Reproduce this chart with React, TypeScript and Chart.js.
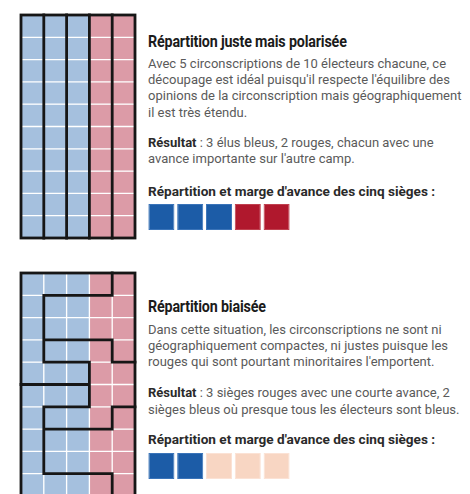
import React, { useEffect, useRef } from "react";
import { Chart, registerables } from "chart.js";

Chart.register(...registerables);

// ---------- data ----------
const gridColumns = ["1", "2", "3", "4", "5"];
// voters: B = bleu, R = rouge (one string per row, top to bottom)
const voterRows = [
  "BBBRR", "BBBRR", "BBBRR", "BBBRR", "BBBRR",
  "BBBRR", "BBBRR", "BBBRR", "BBBRR", "BBBRR",
];
// district id of each voter, fair map
const districtsFair = [
  "01234", "01234", "01234", "01234", "01234",
  "01234", "01234", "01234", "01234", "01234",
];
// district id of each voter, biased map
const districtsBiased = [
  "22221", "21111", "21111", "23331", "22233",
  "44433", "43335", "45555", "45555", "44445",
];
// seats: winner and margin (voters ahead)
const seatLabels = ["1", "2", "3", "4", "5"];
const seatWinnerFair = ["bleu", "bleu", "bleu", "rouge", "rouge"];
const seatMarginFair = [10, 10, 10, 10, 10];
const seatWinnerBiased = ["bleu", "bleu", "rouge", "rouge", "rouge"];
const seatMarginBiased = [8, 8, 2, 2, 2];

// texts
const titleFair = "Répartition juste mais polarisée";
const bodyFair = [
  "Avec 5 circonscriptions de 10 électeurs chacune, ce",
  "découpage est idéal puisqu'il respecte l'équilibre des",
  "opinions de la circonscription mais géographiquement",
  "il est très étendu.",
];
const resultFair = [
  " : 3 élus bleus, 2 rouges, chacun avec une",
  "avance importante sur l'autre camp.",
];
const titleBiased = "Répartition biaisée";
const bodyBiased = [
  "Dans cette situation, les circonscriptions ne sont ni",
  "géographiquement compactes, ni justes puisque les",
  "rouges qui sont pourtant minoritaires l'emportent.",
];
const resultBiased = [
  " : 3 sièges rouges avec une courte avance, 2",
  "sièges bleus où presque tous les électeurs sont bleus.",
];
const seatsHeading = "Répartition et marge d'avance des cinq sièges :";

// ---------- styles ----------
const VOTER_COLORS: Record<string, string> = { B: "#a5c0de", R: "#dc9ba7" };
const seatColor = (w: string, m: number) =>
  w === "bleu" ? (m >= 5 ? "#1c5ca7" : "#9fbfe0") : m >= 5 ? "#b0182d" : "#f8d6c3";
const seatBorder = (w: string, m: number) =>
  w === "bleu" ? (m >= 5 ? "#3a74b9" : "#b5cde8") : m >= 5 ? "#c0404f" : "#fbe2d5";

const districtBorders = {
  id: "districtBorders",
  afterDatasetsDraw(chart: any, _args: any, opts: any) {
    const d: string[] = opts.districts;
    if (!d) return;
    const { ctx } = chart;
    const xs = chart.scales.x;
    const ys = chart.scales.y;
    const nR = d.length;
    const nC = d[0].length;
    const colW = xs.getPixelForValue(1) - xs.getPixelForValue(0);
    const x0 = xs.getPixelForValue(0) - colW / 2;
    const xe = (c: number) => x0 + c * colW;
    const ye = (r: number) => ys.getPixelForValue(r);
    ctx.save();
    ctx.strokeStyle = opts.color;
    ctx.lineWidth = opts.width;
    ctx.lineCap = "square";
    ctx.beginPath();
    for (let r = 0; r < nR; r++) {
      for (let c = 0; c < nC; c++) {
        if (c < nC - 1 && d[r][c] !== d[r][c + 1]) {
          ctx.moveTo(xe(c + 1), ye(r));
          ctx.lineTo(xe(c + 1), ye(r + 1));
        }
        if (r < nR - 1 && d[r][c] !== d[r + 1][c]) {
          ctx.moveTo(xe(c), ye(r + 1));
          ctx.lineTo(xe(c + 1), ye(r + 1));
        }
      }
    }
    ctx.stroke();
    ctx.lineJoin = "miter";
    ctx.strokeRect(xe(0), ye(0), xe(nC) - xe(0), ye(nR) - ye(0));
    ctx.restore();
  },
};

function VoterGrid({ districts, top }: { districts: string[]; top: number }) {
  const ref = useRef<HTMLCanvasElement>(null);
  useEffect(() => {
    const chart = new Chart(ref.current!, {
      type: "bar",
      data: {
        labels: gridColumns,
        datasets: voterRows.map((row) => ({
          data: gridColumns.map(() => 1),
          backgroundColor: row.split("").map((ch) => VOTER_COLORS[ch]),
          borderColor: "#ffffff",
          borderWidth: 1,
          borderSkipped: false,
          barPercentage: 1,
          categoryPercentage: 1,
        })),
      },
      options: {
        animation: false,
        responsive: false,
        layout: { padding: 5 },
        plugins: {
          legend: { display: false },
          tooltip: { enabled: false },
          districtBorders: { districts, color: "#161616", width: 2.8 },
        } as any,
        scales: {
          x: { stacked: true, display: false },
          y: { stacked: true, display: false, min: 0, max: 10, reverse: true },
        },
      },
      plugins: [districtBorders],
    });
    return () => chart.destroy();
  }, [districts]);
  return (
    <canvas
      ref={ref}
      width={124}
      height={233}
      style={{ position: "absolute", left: 16, top, width: 124, height: 233 }}
    />
  );
}

function SeatChart({ winners, margins, top }: { winners: string[]; margins: number[]; top: number }) {
  const ref = useRef<HTMLCanvasElement>(null);
  useEffect(() => {
    const chart = new Chart(ref.current!, {
      type: "bar",
      data: {
        labels: seatLabels,
        datasets: [
          {
            data: seatLabels.map(() => 1),
            backgroundColor: winners.map((w, i) => seatColor(w, margins[i])),
            borderColor: winners.map((w, i) => seatBorder(w, margins[i])),
            borderWidth: 1,
            borderSkipped: false,
            barPercentage: 0.905,
            categoryPercentage: 1,
          },
        ],
      },
      options: {
        animation: false,
        responsive: false,
        layout: { padding: 0 },
        plugins: { legend: { display: false }, tooltip: { enabled: false } },
        scales: {
          x: { display: false },
          y: { display: false, min: 0, max: 1 },
        },
      },
    });
    return () => chart.destroy();
  }, [winners, margins]);
  return (
    <canvas
      ref={ref}
      width={144}
      height={26}
      style={{ position: "absolute", left: 147, top, width: 144, height: 26 }}
    />
  );
}

const FONT = "Roboto, 'Open Sans', sans-serif";

function Title({ text, center }: { text: string; center: number }) {
  return (
    <div
      style={{
        position: "absolute",
        left: 148,
        top: center - 10,
        lineHeight: "20px",
        fontFamily: FONT,
        fontWeight: 700,
        fontSize: 17,
        color: "#1b1b1b",
        whiteSpace: "nowrap",
        transform: "scaleX(0.84)",
        transformOrigin: "left center",
        letterSpacing: "-0.2px",
      }}
    >
      {text}
    </div>
  );
}

function Lines({ lines, center, lh, bold }: { lines: string[]; center: number; lh: number; bold?: string }) {
  return (
    <div
      style={{
        position: "absolute",
        left: 148,
        top: center - lh / 2,
        lineHeight: `${lh}px`,
        fontFamily: FONT,
        fontSize: 13,
        color: "#5a5a5a",
        whiteSpace: "nowrap",
      }}
    >
      {lines.map((l, i) => (
        <div key={i}>
          {i === 0 && bold ? <span style={{ fontWeight: 700, color: "#2a2a2a" }}>{bold}</span> : null}
          {l}
        </div>
      ))}
    </div>
  );
}

function Heading({ center }: { center: number }) {
  return (
    <div
      style={{
        position: "absolute",
        left: 148,
        top: center - 8,
        lineHeight: "16px",
        fontFamily: FONT,
        fontWeight: 700,
        fontSize: 13.6,
        color: "#2a2a2a",
        whiteSpace: "nowrap",
      }}
    >
      {seatsHeading}
    </div>
  );
}

export default function App() {
  return (
    <div
      style={{
        position: "absolute",
        left: 0,
        top: 0,
        width: 470,
        height: 494,
        overflow: "hidden",
        background: "#ffffff",
      }}
    >
      <VoterGrid districts={districtsFair} top={10} />
      <Title text={titleFair} center={40.5} />
      <Lines lines={bodyFair} center={64} lh={16.2} />
      <Lines lines={resultFair} center={143} lh={16.5} bold="Résultat" />
      <Heading center={190.5} />
      <SeatChart winners={seatWinnerFair} margins={seatMarginFair} top={204} />

      <VoterGrid districts={districtsBiased} top={268} />
      <Title text={titleBiased} center={306} />
      <Lines lines={bodyBiased} center={330} lh={16.2} />
      <Lines lines={resultBiased} center={392.5} lh={17} bold="Résultat" />
      <Heading center={438.5} />
      <SeatChart winners={seatWinnerBiased} margins={seatMarginBiased} top={453} />
    </div>
  );
}
